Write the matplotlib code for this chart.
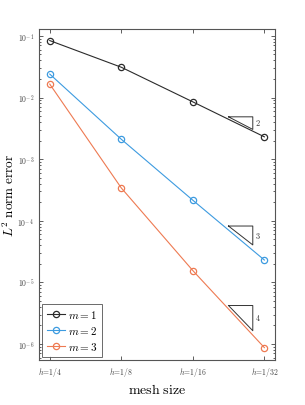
import matplotlib
matplotlib.use("Agg")
import matplotlib.pyplot as plt
import numpy as np
from matplotlib.ticker import LogLocator, NullFormatter

plt.rcParams["mathtext.fontset"] = "cm"
plt.rcParams["font.family"] = "serif"
plt.rcParams["font.serif"] = ["cmr10", "DejaVu Serif"]
plt.rcParams["axes.formatter.use_mathtext"] = True

# mesh: 1/h
inv_h = [4, 8, 16, 32]
tick_labels = [r"$h\!=\!1/4$", r"$h\!=\!1/8$", r"$h\!=\!1/16$", r"$h\!=\!1/32$"]

err_m1 = [0.084, 0.031, 0.0085, 0.0023]
err_m2 = [0.024, 0.0021, 2.15e-4, 2.3e-5]
err_m3 = [0.0165, 3.4e-4, 1.55e-5, 8.7e-7]

series_labels = [r"$m=1$", r"$m=2$", r"$m=3$"]
colors = ["#2b2b2b", "#3d9be0", "#ee7a52"]

# slope triangles: x span in 1/h, top y, slope
tri_x = [22.6, 28.6]
tri_tops = [4.86e-3, 8.2e-5, 4.2e-6]
tri_slopes = [2, 3, 4]

fig = plt.figure(figsize=(3.05, 4.06), dpi=100)
ax = fig.add_axes([0.128, 0.111, 0.774, 0.814])

for errs, lab, c in zip([err_m1, err_m2, err_m3], series_labels, colors):
    ax.plot(inv_h, errs, "-o", color=c, lw=0.8, ms=4.5, mfc="none", mew=0.9, label=lab)

for top, s in zip(tri_tops, tri_slopes):
    x0, x1 = tri_x
    bottom = top * (x0 / x1) ** s
    ax.plot([x0, x1, x1, x0], [top, top, bottom, top], color="#333333", lw=0.7)
    ax.text(x1 * 1.03, np.sqrt(top * bottom), str(s), fontsize=6, va="center", ha="left", color="#333333")

ax.set_xscale("log", base=2)
ax.set_yscale("log")
ax.set_xlim(2 ** 1.85, 2 ** 5.15)
ax.set_ylim(10 ** -6.26, 10 ** -0.895)
ax.set_xticks(inv_h)
ax.set_xticklabels(tick_labels)
ax.xaxis.set_minor_locator(plt.NullLocator())
ax.yaxis.set_major_locator(LogLocator(base=10, numticks=10))
ax.yaxis.set_minor_locator(LogLocator(base=10, subs=np.arange(2, 10), numticks=20))
ax.yaxis.set_minor_formatter(NullFormatter())
ax.tick_params(which="both", direction="in", top=True, right=True, labelsize=5.5,
               colors="#444444", width=0.6)
ax.tick_params(which="major", length=3)
ax.tick_params(which="minor", length=1.5)
for sp in ax.spines.values():
    sp.set_color("#555555")
    sp.set_linewidth(0.8)

ax.set_xlabel(r"$\mathrm{mesh\ size}$", fontsize=10, labelpad=3)
ax.set_ylabel(r"$L^2\ \mathrm{norm\ error}$", fontsize=9.5)
ax.yaxis.set_label_coords(-0.095, 0.5)

leg = ax.legend(loc="lower left", fontsize=8, fancybox=False, edgecolor="#444444",
                handlelength=1.6, handletextpad=0.3, borderpad=0.4, labelspacing=0.35,
                borderaxespad=0.3)
leg.get_frame().set_linewidth(0.7)

fig.savefig("out.png", dpi=100)
